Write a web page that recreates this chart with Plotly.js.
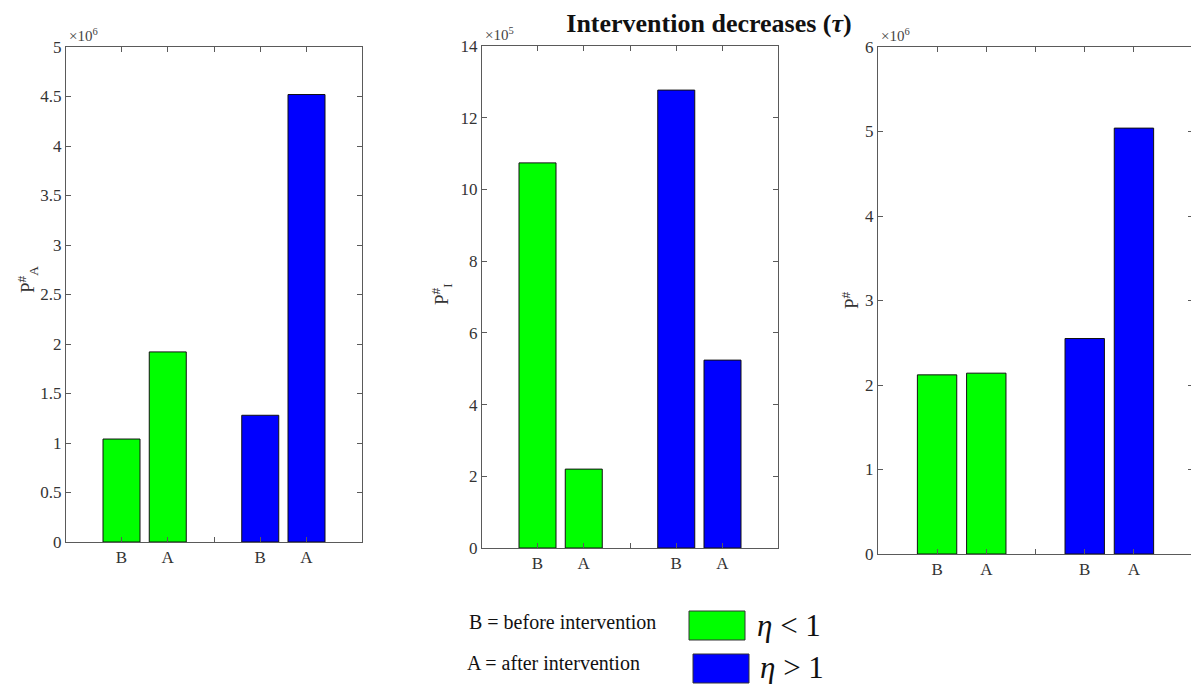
<!DOCTYPE html>
<html>
<head>
<meta charset="utf-8">
<script src="https://cdn.plot.ly/plotly-3.0.1.min.js"></script>
<style>
html,body{margin:0;padding:0;overflow:hidden;background:#fff;width:1191px;height:684px;}
#chart{width:1194px;height:684px;}
</style>
</head>
<body>
<div id="chart"></div>
<script>
// Data (values in units of the axis multiplier shown top-left of each panel)
const groupPositions = [[1, 2], [4, 5]];
const tickPositions = [1, 2, 3, 4, 5];
const tickLabels = ['B', 'A', ' ', 'B', 'A'];
const seriesNames = ['η < 1', 'η > 1'];

// Panel 1: P#_A (x10^6)
const pA_etaLow  = [1.04, 1.92];
const pA_etaHigh = [1.28, 4.52];
// Panel 2: P#_I (x10^5)
const pI_etaLow  = [10.74, 2.20];
const pI_etaHigh = [12.77, 5.24];
// Panel 3: P# (x10^6)
const pT_etaLow  = [2.12, 2.14];
const pT_etaHigh = [2.55, 5.04];

const multipliers = ['×10<sup>6</sup>', '×10<sup>5</sup>', '×10<sup>6</sup>'];
const yLabels = ['P<sup>#</sup><sub>A</sub>', 'P<sup>#</sup><sub>I</sub>', 'P<sup>#</sup>'];

const W = 1194, H = 684;
const GREEN = 'rgb(0,255,0)', BLUE = 'rgb(0,0,255)';
const AXC = '#5a5a5a';
const FONT = 'Liberation Serif';
const TICKSIZE = 17;

// panel pixel boxes [left, right, top, bottom]
const boxes = [[66, 362, 47, 542], [482, 778, 46, 548], [878, 1193, 47, 554]];
const yRanges = [[0, 5], [0, 14], [0, 6]];
const yDticks = [0.5, 2, 1];

const panelData = [[pA_etaLow, pA_etaHigh], [pI_etaLow, pI_etaHigh], [pT_etaLow, pT_etaHigh]];
const colors = [GREEN, BLUE];

const traces = [];
const layout = {
  width: W, height: H,
  margin: {l: 0, r: 0, t: 0, b: 0},
  paper_bgcolor: '#fff', plot_bgcolor: '#fff',
  showlegend: false,
  font: {family: FONT, color: '#333', size: TICKSIZE},
  title: {
    text: '<b>Intervention decreases (<i>τ</i>)</b>',
    x: 709 / W, xanchor: 'center',
    y: 1 - 23 / H, yanchor: 'middle',
    font: {family: FONT, size: 26, color: '#111'}
  },
  annotations: [],
  shapes: []
};

panelData.forEach((pd, i) => {
  const n = i + 1;
  const xa = 'x' + (n === 1 ? '' : n), ya = 'y' + (n === 1 ? '' : n);
  pd.forEach((vals, s) => {
    traces.push({
      type: 'bar', x: groupPositions[s], y: vals, name: seriesNames[s],
      xaxis: xa, yaxis: ya, width: 0.8,
      marker: {color: colors[s], line: {color: '#111', width: 1}},
      hoverinfo: 'y'
    });
  });
  const b = boxes[i];
  const mkAxis = () => ({
    showline: true, linecolor: AXC, linewidth: 1, mirror: 'ticks',
    ticks: 'inside', ticklen: 5, tickcolor: AXC, tickwidth: 1,
    showgrid: false, zeroline: false, fixedrange: true,
    tickfont: {family: FONT, size: TICKSIZE, color: '#333'}
  });
  layout['xaxis' + (n === 1 ? '' : n)] = Object.assign(mkAxis(), {
    domain: [b[0] / W, b[1] / W], anchor: ya,
    range: [-0.2, 6.2], tickmode: 'array',
    tickvals: tickPositions, ticktext: tickLabels
  });
  layout['yaxis' + (n === 1 ? '' : n)] = Object.assign(mkAxis(), {
    domain: [1 - b[3] / H, 1 - b[2] / H], anchor: xa,
    range: yRanges[i], dtick: yDticks[i], tick0: 0
  });
  layout.annotations.push({
    xref: 'paper', yref: 'paper', x: (b[0] + 1) / W, y: 1 - (b[2] - 1) / H,
    xanchor: 'left', yanchor: 'bottom', showarrow: false,
    text: multipliers[i], font: {family: FONT, size: 15, color: '#444'}
  });
});

// y-axis labels
const yLabelPos = [[27, 280], [441, 294], [850, 300]];
yLabels.forEach((t, i) => {
  layout.annotations.push({
    xref: 'paper', yref: 'paper', x: yLabelPos[i][0] / W, y: 1 - yLabelPos[i][1] / H,
    xanchor: 'center', yanchor: 'middle', showarrow: false, textangle: -90,
    text: t, font: {family: FONT, size: 19, color: '#333'}
  });
});

// Legend / key
const keyTexts = ['B = before intervention', 'A = after intervention'];
const keyTextPos = [[467, 622], [465, 663]];
keyTexts.forEach((t, i) => {
  layout.annotations.push({
    xref: 'paper', yref: 'paper', x: keyTextPos[i][0] / W, y: 1 - keyTextPos[i][1] / H,
    xanchor: 'left', yanchor: 'middle', showarrow: false,
    text: t, font: {family: FONT, size: 20, color: '#111'}
  });
});
const keyBoxes = [[689, 745, 611, 640], [693, 749, 654, 683]];
const keyLabelPos = [[755, 625], [758, 667]];
const keyLabels = ['<i>η</i> < 1', '<i>η</i> > 1'];
keyBoxes.forEach((kb, i) => {
  layout.shapes.push({
    type: 'rect', xref: 'paper', yref: 'paper',
    x0: kb[0] / W, x1: kb[1] / W, y0: 1 - kb[3] / H, y1: 1 - kb[2] / H,
    fillcolor: colors[i], line: {color: '#333', width: 1}
  });
  layout.annotations.push({
    xref: 'paper', yref: 'paper', x: keyLabelPos[i][0] / W, y: 1 - keyLabelPos[i][1] / H,
    xanchor: 'left', yanchor: 'middle', showarrow: false,
    text: keyLabels[i], font: {family: FONT, size: 31, color: '#111'}
  });
});

Plotly.newPlot('chart', traces, layout, {displayModeBar: false, staticPlot: true});
</script>
</body>
</html>
